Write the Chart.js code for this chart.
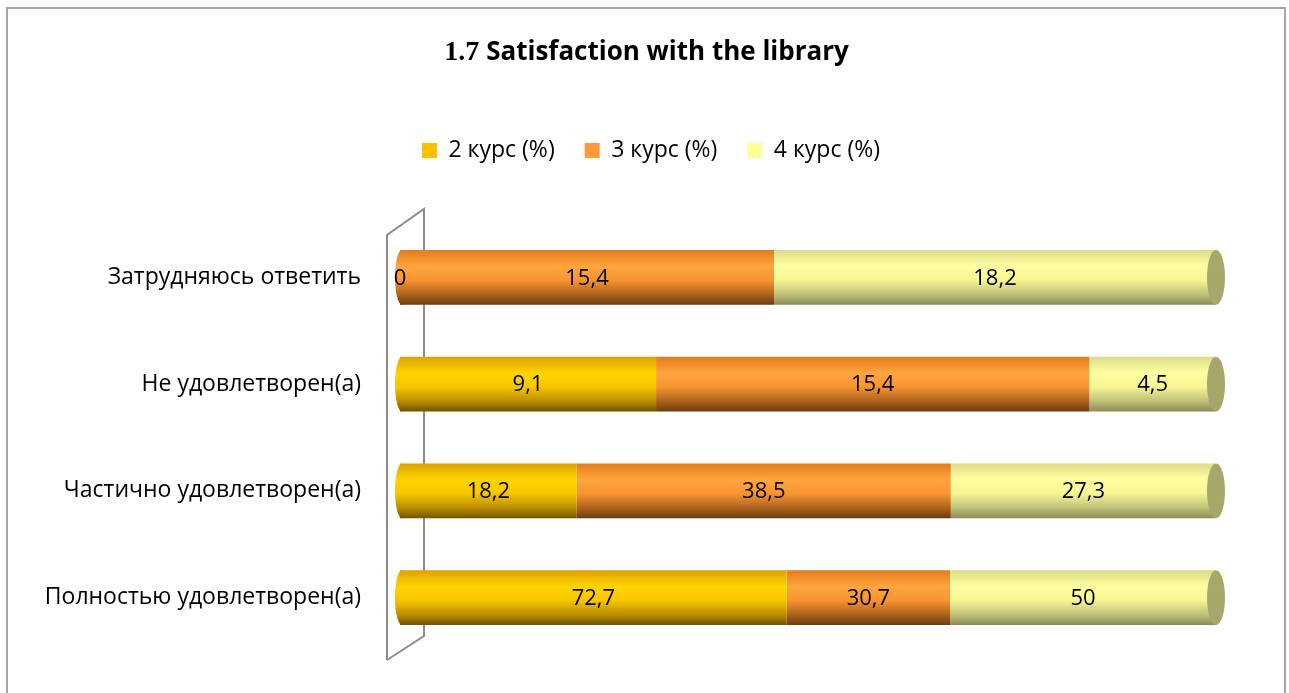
<!DOCTYPE html>
<html>
<head>
<meta charset="utf-8">
<script src="https://cdn.jsdelivr.net/npm/chart.js@4.4.0/dist/chart.umd.min.js"></script>
<style>
  html, body { margin: 0; padding: 0; background: #fff; }
  #wrap { width: 1289px; height: 693px; }
</style>
</head>
<body>
<div id="wrap"><canvas id="chart" width="1289" height="693"></canvas></div>
<script>
const categories = ['Затрудняюсь ответить', 'Не удовлетворен(а)', 'Частично удовлетворен(а)', 'Полностью удовлетворен(а)'];
const seriesNames = ['2 курс (%)', '3 курс (%)', '4 курс (%)'];
const course2 = [0, 9.1, 18.2, 72.7];
const course3 = [15.4, 15.4, 38.5, 30.7];
const course4 = [18.2, 4.5, 27.3, 50];
const titleNum = '1.7';
const titleText = 'Satisfaction with the library';

const FONT = '"Open Sans", "Noto Sans", sans-serif';
const BAR_PCT = 0.515;

// flat legend colours, then the cylinder shading top -> bottom
const swatch = ['#FFC000', '#FF9A3C', '#FFFF99'];
const shading = [
  ['#DDA200', '#FFD400', '#F7C600', '#B88B00', '#6E5200'],
  ['#E27B1C', '#FFA53F', '#F79432', '#A9611C', '#6B3C0E'],
  ['#DCDC88', '#FFFFA2', '#F6F694', '#BDBD78', '#8A8A58']
];
const capColor = ['#B58E12', '#B3712F', '#A7A76C'];

const raw = [course2, course3, course4];
const totals = categories.map((_, i) => raw.reduce((s, arr) => s + arr[i], 0));
const share = arr => arr.map((v, i) => v / totals[i] * 100);

function cylinderFill(ctx, di) {
  const chart = ctx.chart;
  const y = chart.scales.y;
  if (!chart.chartArea || !y) return swatch[di];
  const cy = y.getPixelForValue(ctx.dataIndex);
  const half = chart.chartArea.height / categories.length * BAR_PCT / 2;
  const g = chart.ctx.createLinearGradient(0, cy - half, 0, cy + half);
  const s = shading[di];
  g.addColorStop(0, s[0]);
  g.addColorStop(0.3, s[1]);
  g.addColorStop(0.55, s[2]);
  g.addColorStop(0.82, s[3]);
  g.addColorStop(1, s[4]);
  return g;
}

function fmt(v) {
  return String(v).replace('.', ',');
}

const framePlugin = {
  id: 'frame',
  beforeInit(chart) {
    const fit = chart.legend.fit;
    chart.legend.fit = function () {
      fit.call(this);
      this.height = 115;
    };
  },
  afterLayout(chart) {
    // centre the legend over the whole frame rather than the padded box
    chart.legend.left += 43;
    chart.legend.right += 43;
  },
  beforeDraw(chart) {
    const c = chart.ctx;
    c.save();
    c.fillStyle = '#fff';
    c.fillRect(0, 0, chart.width, chart.height);
    c.strokeStyle = '#A6A6A6';
    c.lineWidth = 2;
    c.strokeRect(7, 8, 1278, 700);
    c.restore();
  },
  beforeDatasetsDraw(chart) {
    const c = chart.ctx;
    const a = chart.chartArea;
    // 3d back wall
    const fx = a.left - 13, bx = a.left + 24;
    c.save();
    c.strokeStyle = '#8C8C8C';
    c.lineWidth = 2;
    c.beginPath();
    c.moveTo(fx, a.bottom + 9);
    c.lineTo(fx, a.top + 11);
    c.lineTo(bx, a.top - 15);
    c.lineTo(bx, a.bottom - 15);
    c.lineTo(fx, a.bottom + 9);
    c.stroke();
    // rounded left ends of the cylinders
    categories.forEach((_, i) => {
      const di = raw.findIndex(arr => arr[i] > 0);
      const el = chart.getDatasetMeta(di).data[i];
      c.fillStyle = el.options.backgroundColor;
      c.beginPath();
      c.ellipse(el.base + 2, el.y, 7, el.height / 2, 0, 0, Math.PI * 2);
      c.fill();
    });
    c.restore();
  },
  afterDatasetsDraw(chart) {
    const c = chart.ctx;
    c.save();
    // end caps
    categories.forEach((_, i) => {
      let di = raw.length - 1;
      while (di > 0 && raw[di][i] <= 0) di--;
      const el = chart.getDatasetMeta(di).data[i];
      c.fillStyle = capColor[di];
      c.beginPath();
      c.ellipse(el.x, el.y, 9, el.height / 2, 0, 0, Math.PI * 2);
      c.fill();
    });
    // value labels
    c.font = '22px ' + FONT;
    c.fillStyle = '#000';
    c.textAlign = 'center';
    c.textBaseline = 'middle';
    raw.forEach((arr, di) => {
      chart.getDatasetMeta(di).data.forEach((el, i) => {
        c.fillText(fmt(arr[i]), (el.x + el.base) / 2, el.y + 1);
      });
    });
    // title
    const numFont = 'bold 28px "Liberation Serif", serif';
    const txtFont = 'bold 26px ' + FONT;
    c.font = numFont;
    const w1 = c.measureText(titleNum + ' ').width;
    c.font = txtFont;
    const w2 = c.measureText(titleText).width;
    const x0 = chart.width / 2 + 2 - (w1 + w2) / 2;
    c.textAlign = 'left';
    c.textBaseline = 'alphabetic';
    c.font = numFont;
    c.fillText(titleNum + ' ', x0, 60);
    c.font = txtFont;
    c.fillText(titleText, x0 + w1, 60);
    c.restore();
  }
};

const datasets = raw.map((arr, di) => ({
  label: seriesNames[di],
  data: share(arr),
  backgroundColor: ctx => cylinderFill(ctx, di),
  borderWidth: 0,
  barPercentage: BAR_PCT,
  categoryPercentage: 1
}));

new Chart(document.getElementById('chart'), {
  type: 'bar',
  data: { labels: categories, datasets: datasets },
  options: {
    indexAxis: 'y',
    responsive: false,
    animation: false,
    layout: { padding: { top: 109, bottom: 42, left: 0, right: 73 } },
    scales: {
      x: { display: false, stacked: true, min: 0, max: 100 },
      y: {
        stacked: true,
        grid: { display: false, drawTicks: false },
        border: { display: false },
        ticks: { padding: 39, color: '#000', font: { family: FONT, size: 23 } },
        afterFit(scale) {
          scale.width = 400;
          scale.paddingTop = 0;
          scale.paddingBottom = 0;
        }
      }
    },
    plugins: {
      title: { display: false },
      tooltip: { enabled: false },
      legend: {
        position: 'top',
        labels: {
          boxWidth: 15,
          boxHeight: 15,
          padding: 30,
          color: '#000',
          font: { family: FONT, size: 23 },
          generateLabels(chart) {
            return seriesNames.map((name, i) => ({
              text: name,
              fillStyle: swatch[i],
              strokeStyle: swatch[i],
              lineWidth: 0,
              datasetIndex: i
            }));
          }
        }
      }
    }
  },
  plugins: [framePlugin]
});
</script>
</body>
</html>
